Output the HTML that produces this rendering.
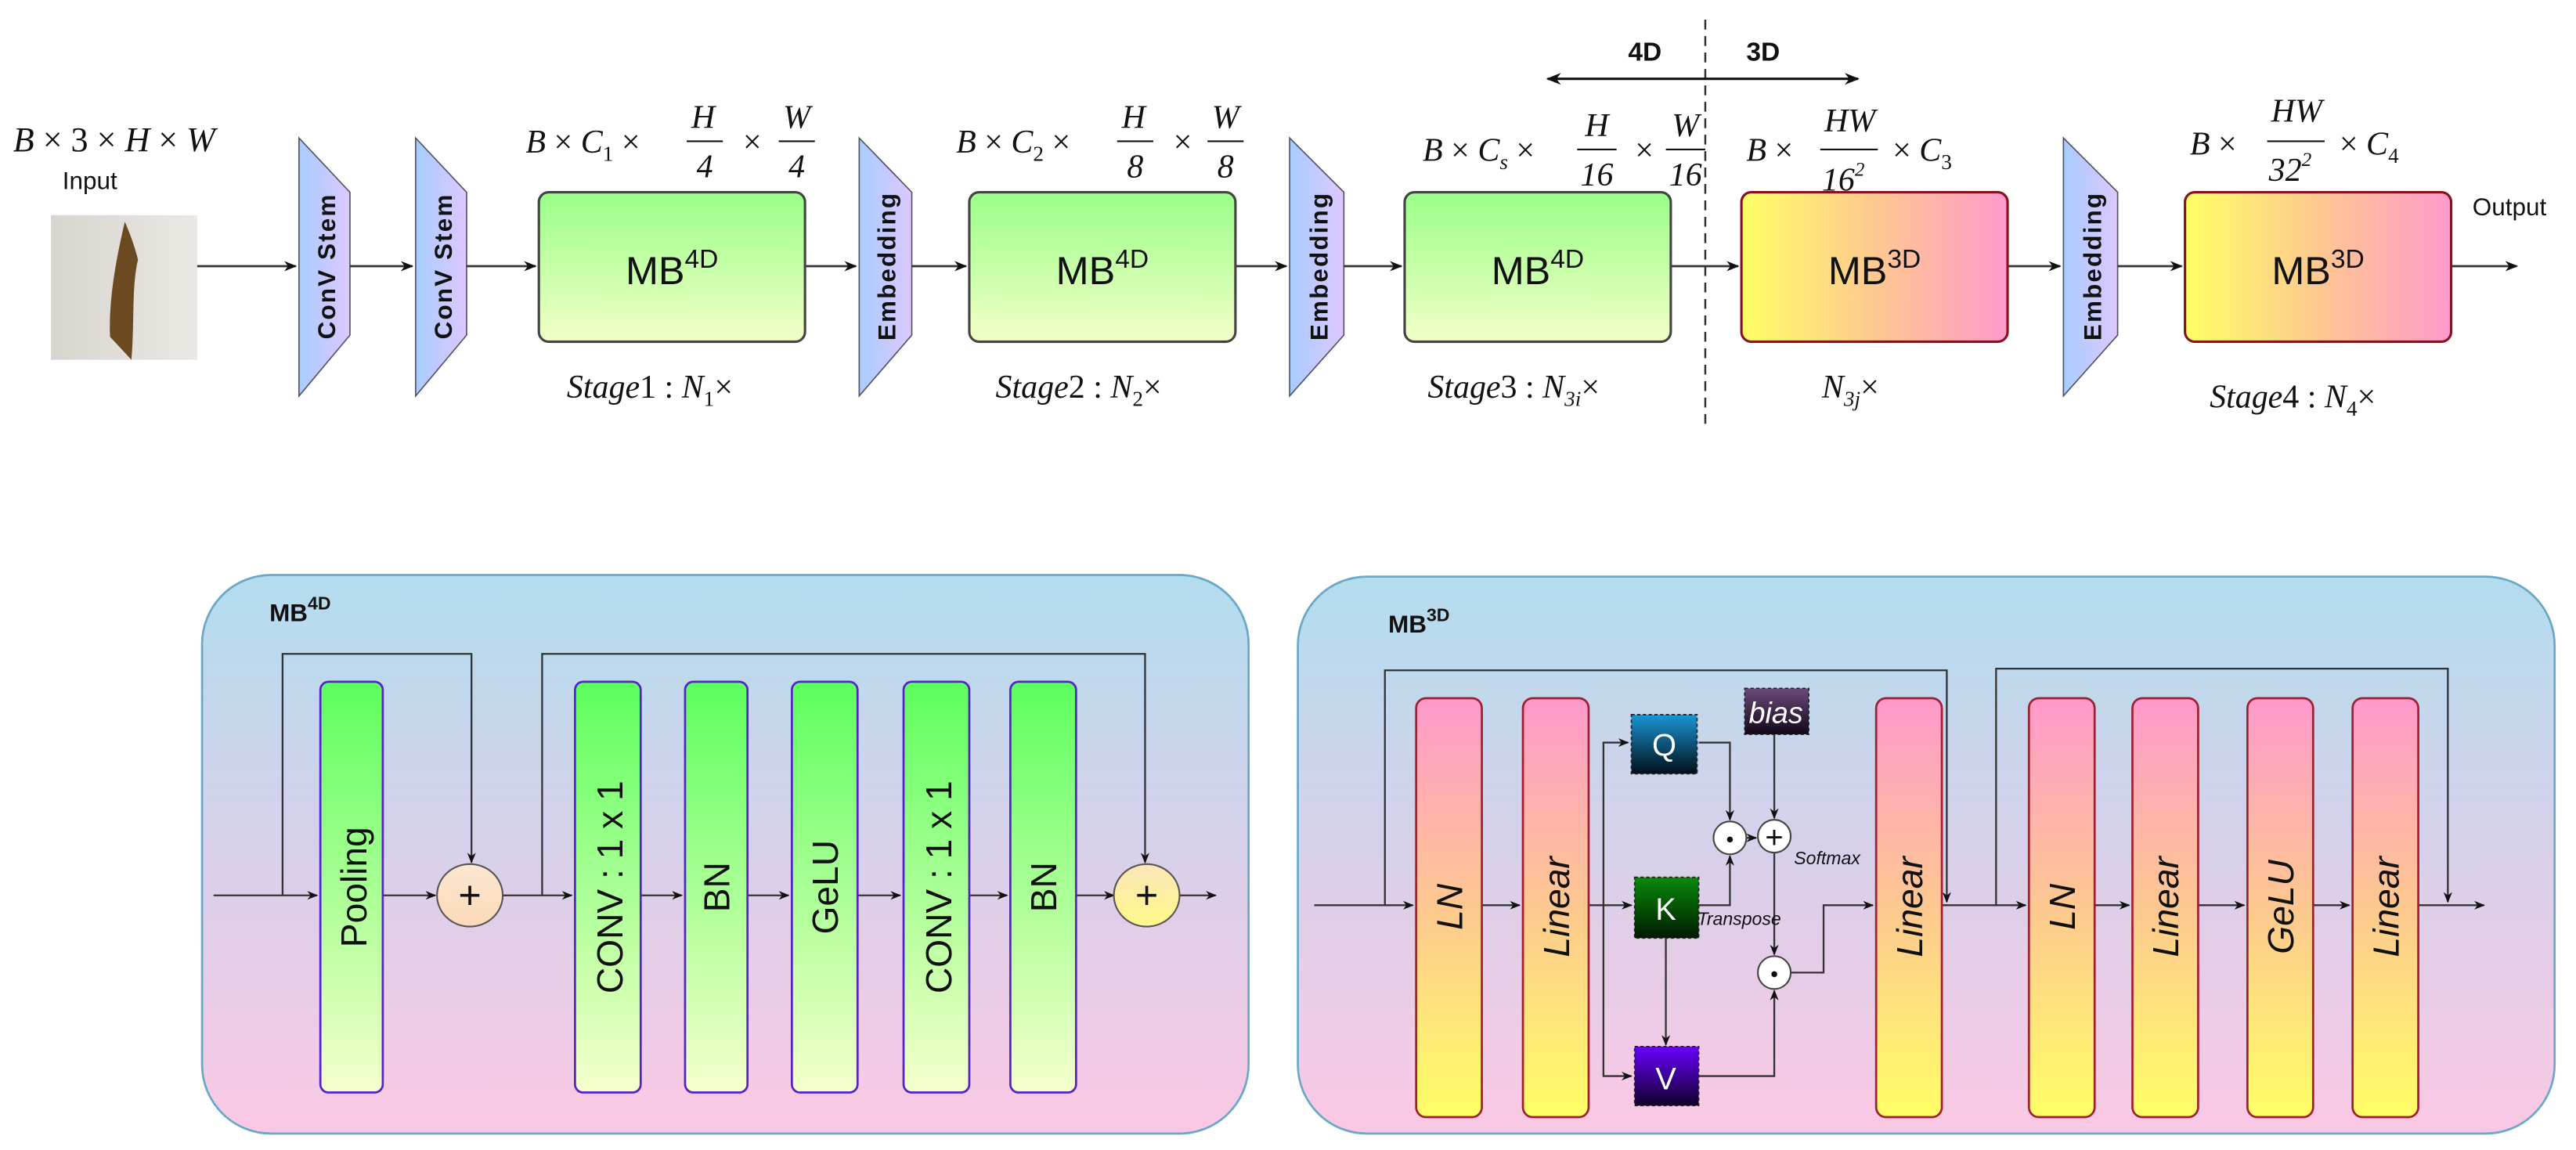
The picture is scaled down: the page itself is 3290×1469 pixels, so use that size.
<!DOCTYPE html>
<html><head><meta charset="utf-8"><style>
html,body{margin:0;padding:0;background:#fff;}
svg{display:block;}
.m{font-family:"Liberation Serif",serif;font-style:italic;fill:#111;}
.mu{font-family:"Liberation Serif",serif;fill:#111;}
.s{font-family:"Liberation Sans",sans-serif;fill:#111;}
</style></head><body>
<svg width="3290" height="1469" viewBox="0 0 1568 700" preserveAspectRatio="none" xmlns="http://www.w3.org/2000/svg">
<defs>
<marker id="a" viewBox="0 0 10 10" refX="9" refY="5" markerWidth="6" markerHeight="6" orient="auto-start-reverse"><path d="M0,1 L10,5 L0,9 L3,5 z" fill="#111"/></marker>
<linearGradient id="trap" x1="0" x2="1"><stop offset="0" stop-color="#a8ccff"/><stop offset="1" stop-color="#ddc8ff"/></linearGradient>
<linearGradient id="grn" x1="0" y1="0" x2="0" y2="1"><stop offset="0" stop-color="#99ff88"/><stop offset="1" stop-color="#f3ffc8"/></linearGradient>
<linearGradient id="grn2" x1="0" y1="0" x2="0" y2="1"><stop offset="0" stop-color="#5cff5c"/><stop offset="1" stop-color="#f5ffcc"/></linearGradient>
<linearGradient id="yp" x1="0" x2="1"><stop offset="0" stop-color="#ffff66"/><stop offset="0.5" stop-color="#fdc890"/><stop offset="1" stop-color="#ff99cc"/></linearGradient>
<linearGradient id="pk" x1="0" y1="0" x2="0" y2="1"><stop offset="0" stop-color="#ff99cc"/><stop offset="0.5" stop-color="#fdc890"/><stop offset="1" stop-color="#ffff66"/></linearGradient>
<linearGradient id="bg" x1="0" y1="0" x2="0" y2="1"><stop offset="0" stop-color="#b2ddee"/><stop offset="0.5" stop-color="#d8d0ea"/><stop offset="1" stop-color="#fbc8e4"/></linearGradient>
<linearGradient id="q" x1="0" y1="0" x2="0" y2="1"><stop offset="0" stop-color="#1a95d5"/><stop offset="1" stop-color="#001018"/></linearGradient>
<linearGradient id="k" x1="0" y1="0" x2="0" y2="1"><stop offset="0" stop-color="#0a8a0a"/><stop offset="1" stop-color="#001a00"/></linearGradient>
<linearGradient id="v" x1="0" y1="0" x2="0" y2="1"><stop offset="0" stop-color="#6a00ff"/><stop offset="1" stop-color="#10002a"/></linearGradient>
<linearGradient id="b" x1="0" y1="0" x2="0" y2="1"><stop offset="0" stop-color="#6a4a7a"/><stop offset="1" stop-color="#120818"/></linearGradient>
<linearGradient id="c1" x1="0" y1="0" x2="0" y2="1"><stop offset="0" stop-color="#fbe8d2"/><stop offset="1" stop-color="#fcd8b8"/></linearGradient>
<linearGradient id="c2" x1="0" y1="0" x2="0" y2="1"><stop offset="0" stop-color="#fbe6b8"/><stop offset="1" stop-color="#fff888"/></linearGradient>
<linearGradient id="leaf" x1="0" x2="1"><stop offset="0" stop-color="#d8d4ce"/><stop offset="1" stop-color="#ebe8e4"/></linearGradient>
</defs>

<!-- TOP ROW -->
<text class="m" x="8" y="92" font-size="21">B <tspan font-style="normal">×</tspan> <tspan font-style="normal">3</tspan> <tspan font-style="normal">×</tspan> H <tspan font-style="normal">×</tspan> W</text>
<text class="s" x="38" y="115" font-size="15" fill="#222">Input</text>
<rect x="31" y="131" width="89" height="88" fill="url(#leaf)"/>
<path d="M76,135 C70,160 66,185 67,205 L80,219 C82,195 80,175 84,158 C82,150 79,142 76,135 Z" fill="#6b4a22"/>
<line x1="120" y1="162" x2="180" y2="162" stroke="#333" stroke-width="1.3" marker-end="url(#a)"/>

<g stroke="#556" stroke-width="0.8">
<polygon points="182,84 213,117 213,204 182,241" fill="url(#trap)"/>
<polygon points="253,84 284,117 284,204 253,241" fill="url(#trap)"/>
<polygon points="523,84 555,117 555,204 523,241" fill="url(#trap)"/>
<polygon points="785,84 818,117 818,204 785,241" fill="url(#trap)"/>
<polygon points="1256,84 1289,117 1289,204 1256,241" fill="url(#trap)"/>
</g>
<g class="s" font-size="15" font-weight="bold" text-anchor="middle" letter-spacing="1">
<text transform="translate(204,162) rotate(-90)">ConV Stem</text>
<text transform="translate(275,162) rotate(-90)">ConV Stem</text>
<text transform="translate(545,162) rotate(-90)">Embedding</text>
<text transform="translate(808,162) rotate(-90)">Embedding</text>
<text transform="translate(1279,162) rotate(-90)">Embedding</text>
</g>
<g stroke="#333" stroke-width="1.3" marker-end="url(#a)">
<line x1="213" y1="162" x2="251" y2="162"/>
<line x1="284" y1="162" x2="326" y2="162"/>
<line x1="490" y1="162" x2="521" y2="162"/>
<line x1="555" y1="162" x2="588" y2="162"/>
<line x1="752" y1="162" x2="783" y2="162"/>
<line x1="818" y1="162" x2="853" y2="162"/>
<line x1="1017" y1="162" x2="1058" y2="162"/>
<line x1="1222" y1="162" x2="1254" y2="162"/>
<line x1="1289" y1="162" x2="1328" y2="162"/>
<line x1="1492" y1="162" x2="1532" y2="162"/>
</g>
<g stroke="#444" stroke-width="1.5">
<rect x="328" y="117" width="162" height="91" rx="6" fill="url(#grn)"/>
<rect x="590" y="117" width="162" height="91" rx="6" fill="url(#grn)"/>
<rect x="855" y="117" width="162" height="91" rx="6" fill="url(#grn)"/>
</g>
<g stroke="#8a1020" stroke-width="1.5">
<rect x="1060" y="117" width="162" height="91" rx="6" fill="url(#yp)"/>
<rect x="1330" y="117" width="162" height="91" rx="6" fill="url(#yp)"/>
</g>
<g class="s" font-size="24" text-anchor="middle">
<text x="409" y="173">MB<tspan font-size="16" dy="-10">4D</tspan></text>
<text x="671" y="173">MB<tspan font-size="16" dy="-10">4D</tspan></text>
<text x="936" y="173">MB<tspan font-size="16" dy="-10">4D</tspan></text>
<text x="1141" y="173">MB<tspan font-size="16" dy="-10">3D</tspan></text>
<text x="1411" y="173">MB<tspan font-size="16" dy="-10">3D</tspan></text>
</g>
<text class="s" x="1505" y="131" font-size="15" fill="#222">Output</text>

<!-- formulas -->
<g class="m" font-size="20">
<text x="320" y="93">B <tspan font-style="normal">×</tspan> C<tspan font-size="13" dy="5" font-style="normal">1</tspan><tspan dy="-5" font-style="normal"> ×</tspan></text>
<text x="428" y="78" text-anchor="middle">H</text><line x1="418" y1="86" x2="440" y2="86" stroke="#111"/><text class="mu" x="429" y="108" text-anchor="middle">4</text>
<text class="mu" x="451" y="93">×</text>
<text x="485" y="78" text-anchor="middle">W</text><line x1="474" y1="86" x2="496" y2="86" stroke="#111"/><text class="mu" x="485" y="108" text-anchor="middle">4</text>

<text x="582" y="93">B <tspan font-style="normal">×</tspan> C<tspan font-size="13" dy="5" font-style="normal">2</tspan><tspan dy="-5" font-style="normal"> ×</tspan></text>
<text x="690" y="78" text-anchor="middle">H</text><line x1="680" y1="86" x2="702" y2="86" stroke="#111"/><text class="mu" x="691" y="108" text-anchor="middle">8</text>
<text class="mu" x="713" y="93">×</text>
<text x="746" y="78" text-anchor="middle">W</text><line x1="735" y1="86" x2="757" y2="86" stroke="#111"/><text class="mu" x="746" y="108" text-anchor="middle">8</text>

<text x="866" y="98">B <tspan font-style="normal">×</tspan> C<tspan font-size="13" dy="5">s</tspan><tspan dy="-5" font-style="normal"> ×</tspan></text>
<text x="972" y="83" text-anchor="middle">H</text><line x1="960" y1="91" x2="984" y2="91" stroke="#111"/><text class="mu" x="972" y="113" text-anchor="middle">16</text>
<text class="mu" x="994" y="98">×</text>
<text x="1026" y="83" text-anchor="middle">W</text><line x1="1014" y1="91" x2="1038" y2="91" stroke="#111"/><text class="mu" x="1026" y="113" text-anchor="middle">16</text>

<text x="1063" y="98">B <tspan font-style="normal">×</tspan></text>
<text x="1126" y="80" text-anchor="middle">HW</text><line x1="1108" y1="91" x2="1143" y2="91" stroke="#111"/><text class="mu" x="1122" y="116" text-anchor="middle">16<tspan font-size="12" dy="-9">2</tspan></text>
<text x="1152" y="98"><tspan font-style="normal">×</tspan> C<tspan font-size="13" dy="5" font-style="normal">3</tspan></text>

<text x="1333" y="94">B <tspan font-style="normal">×</tspan></text>
<text x="1398" y="74" text-anchor="middle">HW</text><line x1="1380" y1="86" x2="1415" y2="86" stroke="#111"/><text class="mu" x="1394" y="110" text-anchor="middle">32<tspan font-size="12" dy="-9">2</tspan></text>
<text x="1424" y="94"><tspan font-style="normal">×</tspan> C<tspan font-size="13" dy="5" font-style="normal">4</tspan></text>

<text x="345" y="242">Stage<tspan font-style="normal">1 : </tspan>N<tspan font-size="13" dy="5" font-style="normal">1</tspan><tspan dy="-5" font-style="normal">×</tspan></text>
<text x="606" y="242">Stage<tspan font-style="normal">2 : </tspan>N<tspan font-size="13" dy="5" font-style="normal">2</tspan><tspan dy="-5" font-style="normal">×</tspan></text>
<text x="869" y="242">Stage<tspan font-style="normal">3 : </tspan>N<tspan font-size="13" dy="5">3i</tspan><tspan dy="-5" font-style="normal">×</tspan></text>
<text x="1109" y="242">N<tspan font-size="13" dy="5">3j</tspan><tspan dy="-5" font-style="normal">×</tspan></text>
<text x="1345" y="248">Stage<tspan font-style="normal">4 : </tspan>N<tspan font-size="13" dy="5" font-style="normal">4</tspan><tspan dy="-5" font-style="normal">×</tspan></text>
</g>

<line x1="1038" y1="12" x2="1038" y2="262" stroke="#333" stroke-width="1.2" stroke-dasharray="6,4"/>
<line x1="942" y1="48" x2="1131" y2="48" stroke="#111" stroke-width="1.5" marker-start="url(#a)" marker-end="url(#a)"/>
<text class="s" x="991" y="37" font-size="16" font-weight="bold">4D</text>
<text class="s" x="1063" y="37" font-size="16" font-weight="bold">3D</text>

<!-- BOTTOM LEFT -->
<rect x="123" y="350" width="637" height="340" rx="42" fill="url(#bg)" stroke="#6aa8c8" stroke-width="1.3"/>
<text class="s" x="164" y="378" font-size="15" font-weight="bold">MB<tspan font-size="11" dy="-7">4D</tspan></text>
<g stroke="#333" stroke-width="1.1" fill="none">
<line x1="130" y1="545" x2="193" y2="545" marker-end="url(#a)"/>
<polyline points="172,545 172,398 287,398 287,525" marker-end="url(#a)"/>
<line x1="233" y1="545" x2="265" y2="545" marker-end="url(#a)"/>
<line x1="305" y1="545" x2="348" y2="545" marker-end="url(#a)"/>
<polyline points="330,545 330,398 697,398 697,525" marker-end="url(#a)"/>
<line x1="390" y1="545" x2="415" y2="545" marker-end="url(#a)"/>
<line x1="455" y1="545" x2="480" y2="545" marker-end="url(#a)"/>
<line x1="522" y1="545" x2="548" y2="545" marker-end="url(#a)"/>
<line x1="590" y1="545" x2="613" y2="545" marker-end="url(#a)"/>
<line x1="655" y1="545" x2="678" y2="545" marker-end="url(#a)"/>
<line x1="718" y1="545" x2="740" y2="545" marker-end="url(#a)"/>
</g>
<g fill="url(#grn2)" stroke="#5522cc" stroke-width="1.3">
<rect x="195" y="415" width="38" height="250" rx="5"/>
<rect x="350" y="415" width="40" height="250" rx="5"/>
<rect x="417" y="415" width="38" height="250" rx="5"/>
<rect x="482" y="415" width="40" height="250" rx="5"/>
<rect x="550" y="415" width="40" height="250" rx="5"/>
<rect x="615" y="415" width="40" height="250" rx="5"/>
</g>
<ellipse cx="286" cy="545" rx="20" ry="19" fill="url(#c1)" stroke="#555"/>
<ellipse cx="698" cy="545" rx="20" ry="19" fill="url(#c2)" stroke="#555"/>
<text class="s" x="286" y="553" font-size="24" text-anchor="middle">+</text>
<text class="s" x="698" y="553" font-size="24" text-anchor="middle">+</text>
<g class="s" font-size="22" text-anchor="middle">
<text transform="translate(223,540) rotate(-90)">Pooling</text>
<text transform="translate(379,540) rotate(-90)">CONV : 1 x 1</text>
<text transform="translate(444,540) rotate(-90)">BN</text>
<text transform="translate(510,540) rotate(-90)">GeLU</text>
<text transform="translate(579,540) rotate(-90)">CONV : 1 x 1</text>
<text transform="translate(643,540) rotate(-90)">BN</text>
</g>

<!-- BOTTOM RIGHT -->
<rect x="790" y="351" width="765" height="339" rx="42" fill="url(#bg)" stroke="#6aa8c8" stroke-width="1.3"/>
<text class="s" x="845" y="385" font-size="15" font-weight="bold">MB<tspan font-size="11" dy="-7">3D</tspan></text>
<g stroke="#333" stroke-width="1.1" fill="none">
<line x1="800" y1="551" x2="860" y2="551" marker-end="url(#a)"/>
<polyline points="843,551 843,408 1185,408 1185,549" marker-end="url(#a)"/>
<line x1="902" y1="551" x2="925" y2="551" marker-end="url(#a)"/>
<line x1="967" y1="551" x2="993" y2="551" marker-end="url(#a)"/>
<polyline points="976,551 976,452 991,452" marker-end="url(#a)"/>
<polyline points="976,551 976,655 993,655" marker-end="url(#a)"/>
<polyline points="1034,452 1053,452 1053,499" marker-end="url(#a)"/>
<polyline points="1034,551 1053,551 1053,521" marker-end="url(#a)"/>
<line x1="1063" y1="510" x2="1069" y2="510" marker-end="url(#a)"/>
<line x1="1080" y1="447" x2="1080" y2="498" marker-end="url(#a)"/>
<line x1="1080" y1="519" x2="1080" y2="581" marker-end="url(#a)"/>
<line x1="1014" y1="571" x2="1014" y2="636" marker-end="url(#a)"/>
<polyline points="1034,655 1080,655 1080,603" marker-end="url(#a)"/>
<polyline points="1090,592 1110,592 1110,551 1140,551" marker-end="url(#a)"/>
<line x1="1182" y1="551" x2="1233" y2="551" marker-end="url(#a)"/>
<polyline points="1215,551 1215,407 1490,407 1490,549" marker-end="url(#a)"/>
<line x1="1275" y1="551" x2="1296" y2="551" marker-end="url(#a)"/>
<line x1="1338" y1="551" x2="1366" y2="551" marker-end="url(#a)"/>
<line x1="1408" y1="551" x2="1430" y2="551" marker-end="url(#a)"/>
<line x1="1472" y1="551" x2="1512" y2="551" marker-end="url(#a)"/>
</g>
<g fill="url(#pk)" stroke="#a02030" stroke-width="1.3">
<rect x="862" y="425" width="40" height="255" rx="6"/>
<rect x="927" y="425" width="40" height="255" rx="6"/>
<rect x="1142" y="425" width="40" height="255" rx="6"/>
<rect x="1235" y="425" width="40" height="255" rx="6"/>
<rect x="1298" y="425" width="40" height="255" rx="6"/>
<rect x="1368" y="425" width="40" height="255" rx="6"/>
<rect x="1432" y="425" width="40" height="255" rx="6"/>
</g>
<g class="s" font-size="22" font-style="italic" text-anchor="middle">
<text transform="translate(890,552) rotate(-90)">LN</text>
<text transform="translate(955,552) rotate(-90)">Linear</text>
<text transform="translate(1170,552) rotate(-90)">Linear</text>
<text transform="translate(1263,552) rotate(-90)">LN</text>
<text transform="translate(1326,552) rotate(-90)">Linear</text>
<text transform="translate(1396,552) rotate(-90)">GeLU</text>
<text transform="translate(1460,552) rotate(-90)">Linear</text>
</g>
<g stroke="#222" stroke-width="0.8" stroke-dasharray="2,1.5">
<rect x="993" y="435" width="40" height="36" fill="url(#q)"/>
<rect x="995" y="534" width="39" height="37" fill="url(#k)"/>
<rect x="995" y="637" width="39" height="36" fill="url(#v)"/>
<rect x="1062" y="419" width="39" height="28" fill="url(#b)"/>
</g>
<g class="s" fill="#fff" font-size="19" text-anchor="middle">
<text x="1013" y="460" fill="#fff">Q</text>
<text x="1014" y="560" fill="#fff">K</text>
<text x="1014" y="663" fill="#fff">V</text>
<text x="1081" y="440" fill="#fff" font-style="italic" font-size="18">bias</text>
</g>
<g fill="#fff" stroke="#444">
<circle cx="1053" cy="510" r="10"/><circle cx="1080" cy="509" r="10"/><circle cx="1080" cy="592" r="10"/>
</g>
<circle cx="1053" cy="511" r="1.8" fill="#111"/><circle cx="1080" cy="593" r="1.8" fill="#111"/>
<text class="s" x="1080" y="516" font-size="19" text-anchor="middle">+</text>
<text class="s" x="1092" y="526" font-size="11" font-style="italic" fill="#444">Softmax</text>
<text class="s" x="1033" y="563" font-size="11" font-style="italic" fill="#444">Transpose</text>
</svg>
</body></html>
